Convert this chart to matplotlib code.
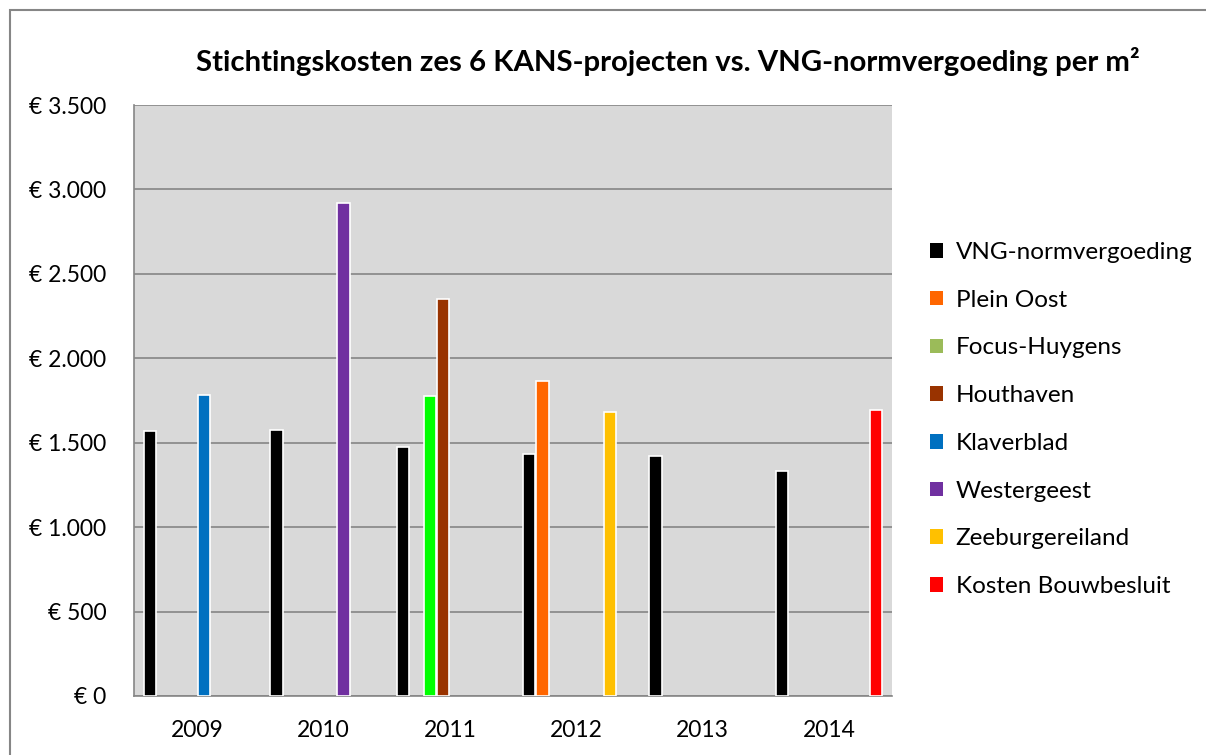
import matplotlib
matplotlib.use("Agg")
import matplotlib.pyplot as plt
import numpy as np
from matplotlib.patches import Rectangle
from matplotlib.ticker import FuncFormatter, MultipleLocator

years = ["2009", "2010", "2011", "2012", "2013", "2014"]
series = ["VNG-normvergoeding", "Plein Oost", "Focus-Huygens", "Houthaven",
          "Klaverblad", "Westergeest", "Zeeburgereiland", "Kosten Bouwbesluit"]
colors = ["#000000", "#FF6600", "#9BBB59", "#993300",
          "#0070C0", "#7030A0", "#FFC000", "#FF0000"]
nan = np.nan
vng = [1570, 1575, 1475, 1435, 1420, 1330]
plein_oost = [nan, nan, nan, 1865, nan, nan]
focus_huygens = [nan, nan, 1775, nan, nan, nan]
houthaven = [nan, nan, 2350, nan, nan, nan]
klaverblad = [1780, nan, nan, nan, nan, nan]
westergeest = [nan, 2920, nan, nan, nan, nan]
zeeburgereiland = [nan, nan, nan, 1680, nan, nan]
bouwbesluit = [nan, nan, nan, nan, nan, 1695]
values = [vng, plein_oost, focus_huygens, houthaven, klaverblad,
          westergeest, zeeburgereiland, bouwbesluit]
focus_bar_color = "#00FF00"

plt.rcParams['font.family'] = ['Lato', 'DejaVu Sans']

fig = plt.figure(figsize=(12.06, 7.55), dpi=100)
fig.patches.append(Rectangle((10/1206, -0.1), 1.2, 1.1 - 10/755, transform=fig.transFigure,
                             fill=False, edgecolor="#868686", linewidth=1.5))
ax = fig.add_axes([134/1206, 59/755, 758/1206, 591/755])
ax.set_facecolor("#D9D9D9")

x = np.arange(len(years))
slot = 0.85 / len(series)
for i, (name, vals, c) in enumerate(zip(series, values, colors)):
    pos = x - 0.425 + slot * (i + 0.5)
    bars = ax.bar(pos, vals, width=slot * 0.92, color=c, edgecolor="white",
                  linewidth=1.2, label=name, zorder=3)
    if name == "Focus-Huygens":
        for b in bars:
            b.set_facecolor(focus_bar_color)

ax.set_xlim(-0.5, len(years) - 0.5)
ax.set_ylim(0, 3500)
ax.yaxis.set_major_locator(MultipleLocator(500))
ax.yaxis.set_major_formatter(FuncFormatter(lambda v, p: "€ " + f"{int(v):,}".replace(",", ".")))
ax.set_xticks(x)
ax.set_xticklabels(years)
ax.grid(axis="y", color="#868686", linewidth=1.2, zorder=0)
ax.tick_params(axis="x", length=0, labelsize=16.5, pad=17)
ax.tick_params(axis="y", length=0, labelsize=16.5, pad=20)
for s in ["top", "right"]:
    ax.spines[s].set_visible(False)
for s in ["left", "bottom"]:
    ax.spines[s].set_color("#868686")
    ax.spines[s].set_linewidth(1.2)

handles = [Rectangle((0, 0), 1, 1, facecolor=c, edgecolor="none") for c in colors]
fig.legend(handles, series, loc="upper left", bbox_to_anchor=(930/1206, 1 - 242/755),
           frameon=False, fontsize=17.5, handlelength=0.55, handleheight=0.55,
           handletextpad=0.5, labelspacing=1.1, borderaxespad=0, borderpad=0)

fig.text(668/1206, 1 - 62/755, "Stichtingskosten zes 6 KANS-projecten vs. VNG-normvergoeding per m²",
         ha="center", va="center", fontsize=21.2, fontweight="bold")

fig.savefig("out.png", dpi=100)
